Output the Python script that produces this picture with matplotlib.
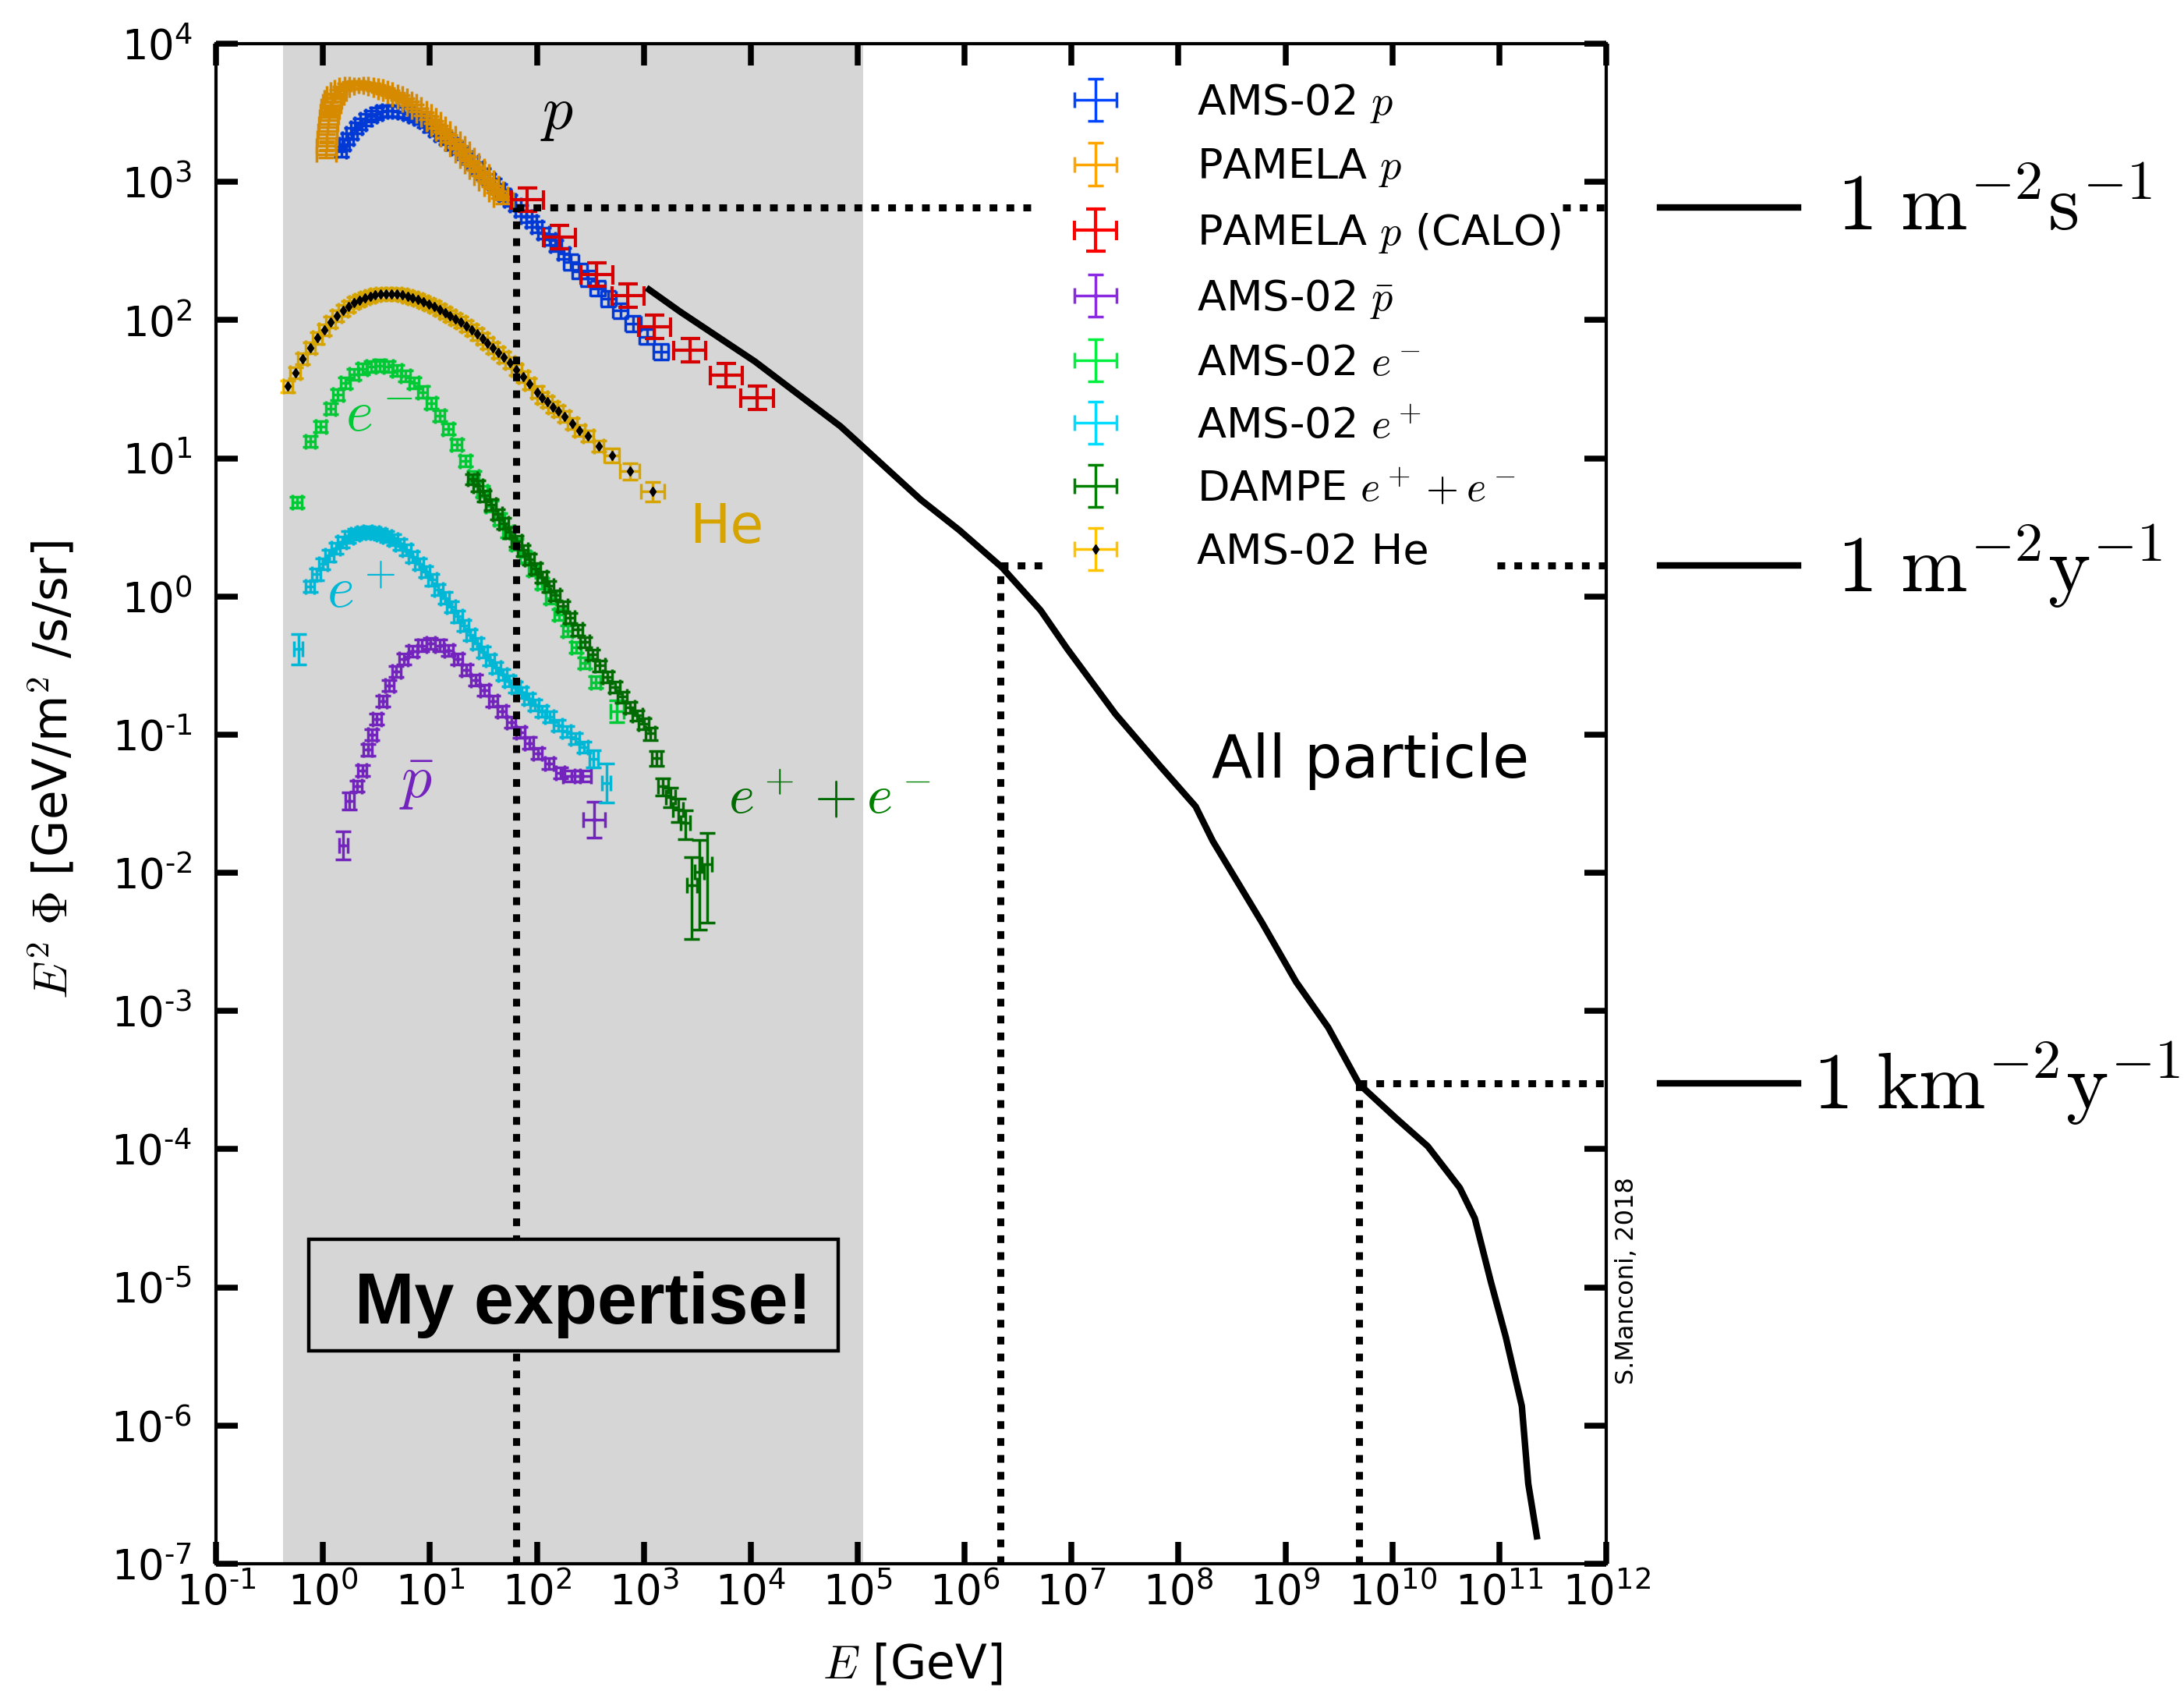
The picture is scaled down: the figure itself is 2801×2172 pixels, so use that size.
import numpy as np
import matplotlib
matplotlib.use("Agg")
import matplotlib.pyplot as plt
from matplotlib import transforms
from matplotlib.patches import Rectangle
from matplotlib.ticker import LogLocator, NullLocator, FuncFormatter

plt.rcParams["font.family"] = "DejaVu Sans"
plt.rcParams["mathtext.fontset"] = "cm"

# values: E [GeV] and E^2 Phi [GeV/m^2/s/sr]
ams_p_E = [1.48, 1.58, 1.70, 1.86, 2.04, 2.24, 2.51, 2.82, 3.16, 3.55, 3.98, 4.47, 5.01, 5.62,
           6.31, 7.08, 7.94, 8.91, 10.0, 11.2, 12.6, 14.1, 15.8, 17.8, 20.0, 22.4, 25.1, 28.2,
           31.6, 35.5, 39.8, 44.7, 50.1, 56.2, 63.1, 70.8, 79.4, 89.1, 100, 115, 132, 151, 178,
           209, 251, 302, 372, 468, 603, 794, 1072, 1445]
ams_p_F = [1660, 1862, 2042, 2239, 2455, 2630, 2818, 2985, 3126, 3236, 3273, 3273, 3236, 3199,
           3090, 2985, 2884, 2723, 2541, 2371, 2188, 2042, 1884, 1758, 1622, 1496, 1380, 1259,
           1148, 1047, 966, 881, 804, 733, 676, 617, 562, 519, 473, 427, 385, 347, 302,
           263, 226, 200, 170, 143, 117, 94.4, 75.9, 58.9]

pam_p_E = [1.072, 1.081, 1.091, 1.104, 1.119, 1.138, 1.159, 1.186, 1.222, 1.274, 1.343, 1.445,
           1.585, 1.758, 1.950, 2.163, 2.399, 2.661, 2.951, 3.273, 3.631, 4.027, 4.467, 4.955,
           5.495, 6.095, 6.761, 7.499, 8.318, 9.226, 10.23, 11.35, 12.59, 13.96, 15.49, 17.18,
           19.05, 21.13, 23.44, 26.00, 28.84, 31.99, 35.48, 39.36, 43.65, 48.42]
pam_p_F = [1585, 1820, 2089, 2344, 2630, 2951, 3236, 3548, 3802, 4074, 4365, 4624, 4842, 5012,
           5070, 5070, 5012, 4955, 4875, 4764, 4634, 4487, 4335, 4169, 3990, 3802, 3614, 3420,
           3221, 3020, 2818, 2618, 2427, 2239, 2056, 1884, 1722, 1570, 1429, 1297, 1180, 1072,
           977, 891, 813, 741]

calo_E = [81.3, 162, 363, 708, 1259, 2692, 5888, 11482]
calo_F = [741, 398, 214, 151, 89.1, 60.3, 39.8, 27.5]

pbar_E = [1.549, 1.778, 2.089, 2.344, 2.630, 2.884, 3.199, 3.631, 4.169, 4.842, 5.689, 6.918,
          8.414, 10.12, 12.30, 14.96, 18.20, 21.88, 26.61, 32.36, 38.90, 47.32, 57.54, 69.98,
          85.11, 102.3, 130.3, 166.0, 211.3, 269.2, 342.8]
pbar_F = [0.0158, 0.0331, 0.0422, 0.0550, 0.0776, 0.100, 0.130, 0.174, 0.226, 0.285, 0.351,
          0.403, 0.442, 0.455, 0.442, 0.405, 0.351, 0.295, 0.248, 0.209, 0.175, 0.147, 0.123,
          0.1035, 0.0871, 0.0733, 0.0617, 0.0531, 0.0501, 0.0501, 0.0243]

em_E = [0.575, 0.759, 0.955, 1.175, 1.380, 1.622, 1.950, 2.344, 2.818, 3.388, 4.074, 4.898,
        5.888, 7.079, 8.511, 10.23, 12.30, 14.79, 17.78, 21.38, 25.70, 30.90, 37.15, 44.67,
        53.70, 64.57, 77.62, 93.33, 112.2, 134.9, 162.2, 195.0, 234.4, 281.8, 354.8, 562.3]
em_F = [4.79, 13.18, 16.98, 22.91, 28.84, 35.08, 40.27, 44.16, 46.24, 46.99, 45.92, 43.15,
        39.36, 35.08, 30.20, 25.12, 20.42, 16.22, 12.59, 9.55, 7.41, 5.75, 4.52, 3.63,
        2.92, 2.37, 1.93, 1.55, 1.245, 0.977, 0.741, 0.562, 0.427, 0.331, 0.240, 0.148]

ep_E = [0.589, 0.759, 0.871, 1.000, 1.148, 1.318, 1.514, 1.738, 1.995, 2.291, 2.630, 3.020,
        3.467, 3.981, 4.571, 5.248, 6.026, 6.918, 7.943, 9.120, 10.47, 12.02, 13.80, 15.85,
        18.20, 20.89, 23.99, 27.54, 31.62, 36.31, 41.69, 47.86, 54.95, 63.10, 72.44, 83.18,
        95.50, 112.2, 131.8, 158.5, 190.5, 229.1, 275.4, 338.8, 446.7]
ep_F = [0.417, 1.175, 1.445, 1.718, 1.972, 2.239, 2.483, 2.692, 2.831, 2.897, 2.917, 2.897,
        2.831, 2.723, 2.570, 2.371, 2.163, 1.936, 1.718, 1.514, 1.318, 1.122, 0.977, 0.841,
        0.716, 0.617, 0.525, 0.457, 0.398, 0.347, 0.305, 0.272, 0.245, 0.221, 0.202, 0.182,
        0.164, 0.148, 0.135, 0.117, 0.105, 0.0933, 0.0813, 0.0668, 0.0447]

dampe_E = [25.1, 28.2, 32.4, 37.2, 42.7, 49.0, 56.2, 64.6, 74.1, 85.1, 97.7, 112, 129, 148,
           174, 204, 240, 282, 331, 389, 457, 537, 631, 741, 871, 1000, 1148, 1318, 1514,
           1778, 2089, 2455, 2818, 3311, 3890]
dampe_F = [7.08, 6.31, 5.37, 4.62, 3.94, 3.39, 2.92, 2.51, 2.16, 1.86, 1.60, 1.38, 1.19, 1.02,
           0.851, 0.700, 0.575, 0.468, 0.380, 0.316, 0.263, 0.221, 0.188, 0.158, 0.138, 0.120,
           0.102, 0.0676, 0.0422, 0.0355, 0.0288, 0.0229, 0.00813, 0.0102, 0.0115]
dampe_relerr = [0.09] * 26 + [0.10, 0.12, 0.14, 0.16, 0.19, 0.24, 0.59, 0.70, 0.68]

he_E = [0.468, 0.550, 0.646, 0.759, 0.891, 1.023, 1.175, 1.349, 1.549, 1.738, 1.950, 2.188,
        2.455, 2.754, 3.090, 3.467, 3.890, 4.365, 4.898, 5.495, 6.166, 6.918, 7.762, 8.710,
        9.772, 10.96, 12.30, 13.80, 15.49, 17.38, 19.50, 21.88, 24.55, 27.54, 30.90, 34.67,
        38.90, 43.65, 48.98, 56.23, 64.57, 74.13, 85.11, 100, 112.2, 125.9, 141.3, 158.5,
        182.0, 213.8, 251.2, 302.0, 380.2, 501.2, 741.3, 1202]
he_F = [33.1, 41.7, 52.5, 63.1, 74.1, 85.1, 96.6, 107.2, 117.5, 125.9, 133.4, 139.6, 144.5,
        148.6, 151.7, 153.8, 154.9, 154.9, 153.8, 151.7, 148.6, 144.9, 140.6, 135.8, 130.6,
        125.0, 119.4, 113.5, 107.6, 101.9, 96.2, 90.4, 84.7, 79.1, 73.5, 68.1, 63.0, 58.2,
        53.8, 49.0, 43.7, 38.9, 34.7, 30.2, 27.5, 25.7, 23.4, 21.9, 20.0, 17.8, 15.8, 14.5,
        12.3, 10.5, 8.04, 5.75]

allp_E = [1122, 2188, 10965, 69183, 102329, 389045, 891251, 2.239e6, 5.129e6, 9.120e6,
          2.570e7, 6.761e7, 1.445e8, 2.089e8, 6.026e8, 1.259e9, 2.512e9, 4.898e9, 1.096e10,
          2.138e10, 4.266e10, 5.888e10, 8.318e10, 1.148e11, 1.622e11, 1.862e11, 2.239e11]
allp_F = [166, 115, 50.1, 17.0, 12.9, 5.01, 3.02, 1.62, 0.794, 0.417, 0.141, 0.0589, 0.0302,
          0.0170, 4.37e-3, 1.62e-3, 7.59e-4, 2.95e-4, 1.66e-4, 1.05e-4, 5.25e-5, 3.16e-5,
          1.10e-5, 4.37e-6, 1.38e-6, 3.80e-7, 1.58e-7]

# reference rates: flux level, energy where the spectrum crosses it, dotted segment ends
rate_F = [653, 1.67, 3.0e-4]
rate_E = [64, 2.17e6, 4.9e9]
rate_left_end = [4.9e6, 6.0e6, 1e12]
rate_right_start = [3.9e11, 9.5e10, None]
rate_labels = [r"$1\ \mathrm{m}^{-2}\mathrm{s}^{-1}$",
               r"$1\ \mathrm{m}^{-2}\mathrm{y}^{-1}$",
               r"$1\ \mathrm{km}^{-2}\mathrm{y}^{-1}$"]

expertise_E = [0.42, 1.12e5]

c_ams = "#0044ff"
c_pam = "#ffa500"
c_calo = "#ff0000"
c_pbar = "#8a2be2"
c_em = "#00f040"
c_ep = "#00dcff"
c_dampe = "#008000"
c_he = "#ffc400"


def dex(v, d):
    v = np.asarray(v, float)
    d = np.broadcast_to(np.asarray(d, float), v.shape)
    return np.vstack([v - v / 10 ** d, v * 10 ** d - v])


def decade_label(v, pos):
    k = int(round(np.log10(v)))
    return "$\\mathdefault{10^{%s}}$" % str(k).replace("-", "\u2010")


fig = plt.figure(figsize=(28.01, 21.72), dpi=100)
ax = fig.add_axes([0.0989, 0.0769, 0.6366, 0.8973])
ax.set_xscale("log")
ax.set_yscale("log")
ax.set_xlim(1e-1, 1e12)
ax.set_ylim(1e-7, 1e4)

eb = dict(elinewidth=2.5, capthick=2.5, capsize=7)

big = np.array(ams_p_E) > 200
h1 = ax.errorbar(ams_p_E, ams_p_F, xerr=dex(ams_p_E, np.where(big, 0.07, 0.05)),
                 yerr=dex(ams_p_F, np.where(big, 0.055, 0.04)),
                 fmt="none", ecolor=c_ams, label="AMS-02 $p$", **eb)
h2 = ax.errorbar(pam_p_E, pam_p_F, xerr=dex(pam_p_E, 0.09), yerr=dex(pam_p_F, 0.025),
                 fmt="none", ecolor=c_pam, label="PAMELA $p$", **eb)
h3 = ax.errorbar(calo_E, calo_F, xerr=dex(calo_E, 0.15), yerr=dex(calo_F, 0.085),
                 fmt="none", ecolor=c_calo, label="PAMELA $p$ (CALO)",
                 elinewidth=3, capthick=3, capsize=9)

pbar_yd = np.full(len(pbar_E), 0.04)
pbar_yd[0], pbar_yd[1], pbar_yd[-1] = 0.10, 0.06, 0.13
pbar_xd = np.full(len(pbar_E), 0.04)
pbar_xd[-3:] = [0.08, 0.08, 0.10]
h4 = ax.errorbar(pbar_E, pbar_F, xerr=dex(pbar_E, pbar_xd), yerr=dex(pbar_F, pbar_yd),
                 fmt=".", color=c_pbar, ms=6, ecolor=c_pbar, label=r"AMS-02 $\bar{p}$", **eb)

em_xd = np.full(len(em_E), 0.045)
em_xd[-1] = 0.06
em_yd = np.full(len(em_E), 0.04)
em_yd[-1] = 0.08
h5 = ax.errorbar(em_E, em_F, xerr=dex(em_E, em_xd), yerr=dex(em_F, em_yd),
                 fmt="none", ecolor=c_em, label="AMS-02 $e^-$", **eb)

ep_yd = np.full(len(ep_E), 0.04)
ep_yd[0], ep_yd[-2], ep_yd[-1] = 0.11, 0.06, 0.14
h6 = ax.errorbar(ep_E, ep_F, xerr=dex(ep_E, 0.04), yerr=dex(ep_F, ep_yd),
                 fmt="none", ecolor=c_ep, label="AMS-02 $e^+$", **eb)

dF = np.array(dampe_F) * np.array(dampe_relerr)
dF_lo = np.minimum(dF, np.array(dampe_F) * 0.62)
h7 = ax.errorbar(dampe_E, dampe_F, xerr=dex(dampe_E, 0.045), yerr=[dF_lo, dF],
                 fmt=".", color=c_dampe, ms=5, ecolor=c_dampe,
                 label="DAMPE $e^+ + e^-$", **eb)

he_xd = np.full(len(he_E), 0.045)
he_xd[-3:] = [0.07, 0.09, 0.11]
he_yd = np.full(len(he_E), 0.04)
he_yd[-3:] = [0.05, 0.06, 0.07]
h8 = ax.errorbar(he_E, he_F, xerr=dex(he_E, he_xd), yerr=dex(he_F, he_yd),
                 fmt="d", mfc="k", mec="k", ms=6, ecolor=c_he, label="AMS-02 He", **eb)

# all particle spectrum
ax.plot(allp_E, allp_F, color="k", lw=6, zorder=3)

# dotted guide lines
dot = dict(color="k", lw=6.5, ls=(0, (1.1, 1.3)), dash_capstyle="butt", zorder=2.5)
for F, E, lend, rstart in zip(rate_F, rate_E, rate_left_end, rate_right_start):
    ax.plot([E, E], [1e-7, F], **dot)
    ax.plot([E, lend], [F, F], **dot)
    if rstart is not None:
        ax.plot([rstart, 1e12], [F, F], **dot)

# "my expertise" band (dark veil drawn over the data)
ax.axvspan(expertise_E[0], expertise_E[1], color="k", alpha=0.16, lw=0, zorder=6)
ax.add_patch(Rectangle((0.0667, 0.140), 0.381, 0.0734, transform=ax.transAxes,
                       facecolor="white", edgecolor="k", lw=3.2, zorder=4))
ax.text(0.264, 0.158, "My expertise!", transform=ax.transAxes, ha="center", va="baseline",
        fontsize=66, fontweight="bold", family="Liberation Sans", zorder=7)

# labels inside the plot
ax.text(108, 2427, "$p$", fontsize=56, color="k", ha="left", va="baseline")
ax.text(5940, 2.44, "He", fontsize=50, color=c_he, ha="center", va="baseline")
ax.text(1.62, 15.7, "$e^-$", fontsize=54, color=c_em, ha="left", va="baseline")
ax.text(1.08, 0.83, "$e^+$", fontsize=54, color=c_ep, ha="left", va="baseline")
ax.text(5.16, 0.0350, r"$\bar{p}$", fontsize=56, color=c_pbar, ha="left", va="baseline")
ax.text(6150, 0.0273, "$e^+ + e^-$", fontsize=51, color=c_dampe, ha="left", va="baseline")
ax.text(2.04e8, 0.049, "All particle", fontsize=55, color="k", ha="left", va="baseline")

# rate markers outside the axes
trans = transforms.blended_transform_factory(ax.transAxes, ax.transData)
for F, lab, tx in zip(rate_F, rate_labels, [1.166, 1.166, 1.1486]):
    ax.plot([1.0387, 1.138], [F, F], transform=trans, color="k", lw=6, clip_on=False)
    ax.text(tx, F, lab, transform=trans, fontsize=74, ha="left", va="center")

ax.text(1.0146, 0.186, "S.Manconi, 2018", transform=ax.transAxes, rotation=90,
        fontsize=23, ha="center", va="center")

# axes styling
for ax_ in (ax.xaxis, ax.yaxis):
    ax_.set_major_locator(LogLocator(base=10, numticks=30))
    ax_.set_minor_locator(NullLocator())
    ax_.set_major_formatter(FuncFormatter(decade_label))
ax.tick_params(which="major", direction="in", length=20, width=5.4, top=True, right=True,
               labelsize=38)
ax.tick_params(axis="y", pad=22)
ax.tick_params(axis="x", pad=8)
for s in ax.spines.values():
    s.set_linewidth(3)

ax.set_xlabel(r"$E$ [GeV]", fontsize=43)
ax.xaxis.set_label_coords(0.501, -0.052)
ax.set_ylabel(r"$E^2\ \Phi$ [GeV/m$^2$ /s/sr]", fontsize=44)
ax.yaxis.set_label_coords(-0.099, 0.522)

ax.legend(handles=[h1, h2, h3, h4, h5, h6, h7, h8], loc="upper left",
          bbox_to_anchor=(0.613, 0.975), frameon=False, fontsize=39, handlelength=1.3,
          handletextpad=1.75, labelspacing=0.53, borderpad=0, borderaxespad=0)

fig.savefig("out.png", dpi=100)
